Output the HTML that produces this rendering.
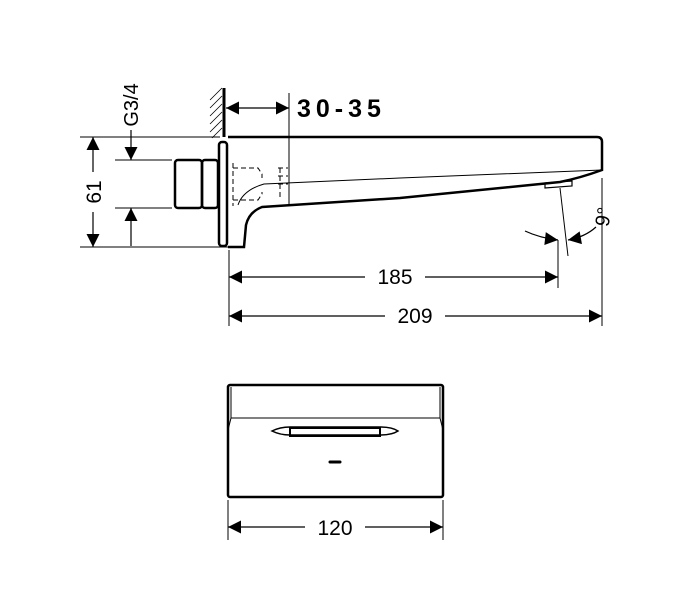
<!DOCTYPE html>
<html><head><style>body{margin:0;background:#fff}svg{display:block}text{font-family:"Liberation Sans",sans-serif}</style></head><body>
<svg width="700" height="600" viewBox="0 0 700 600" xmlns="http://www.w3.org/2000/svg">
<defs>
<marker id="a" viewBox="0 0 10 10" refX="10" refY="5" markerWidth="17" markerHeight="13" markerUnits="userSpaceOnUse" orient="auto-start-reverse"><path d="M0,0L10,5L0,10z" fill="#000"/></marker>
</defs>
<g stroke="#000" fill="none" stroke-width="1.2">
<line x1="224" y1="88" x2="224" y2="137" stroke-width="3"/>
<g stroke-width="0.8"><line x1="210" y1="100" x2="222" y2="88"/><line x1="210" y1="108" x2="222" y2="96"/><line x1="210" y1="116" x2="222" y2="104"/><line x1="210" y1="124" x2="222" y2="112"/><line x1="210" y1="132" x2="222" y2="120"/><line x1="212" y1="138" x2="222" y2="128"/></g>
<path d="M228,137 L597,137 Q602,137 602,142 L602,170 Q580,178 560,182 L400,198 L262,207 Q249,212 246,225 L244,247 L228,247" stroke-width="2.5"/>
<path d="M602,170 L400,178 L264,184 Q243,190 238,205" stroke-width="1"/>
<rect x="219" y="142" width="8" height="104" rx="3" stroke-width="2.5"/>
<rect x="175" y="160" width="27" height="48" rx="3" stroke-width="2.5"/>
<rect x="202" y="160" width="16" height="48" rx="3" stroke-width="2.5"/>
<path d="M545,183 L572,181 L572,186 L545,188z" stroke-width="1.2"/>
<g stroke-dasharray="5,3" stroke-width="1"><path d="M233,168 L258,168 L262,174 L262,178"/><path d="M233,200 L258,200 L262,194 L262,192"/><line x1="233" y1="163" x2="233" y2="206"/><path d="M278,168 L288,168 M278,176 L288,176 M278,184 L288,184 M280,168 L280,198"/></g>
<line x1="289" y1="93" x2="289" y2="205" stroke-width="1"/>
<line x1="226" y1="108" x2="289" y2="108" marker-start="url(#a)" marker-end="url(#a)"/>
<line x1="80" y1="137" x2="220" y2="137" stroke-width="1"/>
<line x1="80" y1="247" x2="228" y2="247" stroke-width="1"/>
<line x1="93" y1="137" x2="93" y2="172" marker-start="url(#a)"/>
<line x1="93" y1="212" x2="93" y2="247" marker-end="url(#a)"/>
<line x1="115" y1="160" x2="172" y2="160" stroke-width="1"/>
<line x1="115" y1="208" x2="172" y2="208" stroke-width="1"/>
<line x1="131" y1="130" x2="131" y2="160" marker-end="url(#a)"/>
<line x1="131" y1="246" x2="131" y2="208" marker-end="url(#a)"/>
<line x1="229" y1="250" x2="229" y2="326" stroke-width="1"/>
<line x1="558" y1="240" x2="558" y2="288" stroke-width="1"/>
<line x1="602" y1="178" x2="602" y2="326" stroke-width="1"/>
<line x1="560" y1="188" x2="568" y2="256" stroke-width="1"/>
<line x1="229" y1="277" x2="365" y2="277" marker-start="url(#a)"/>
<line x1="425" y1="277" x2="558" y2="277" marker-end="url(#a)"/>
<line x1="229" y1="316" x2="385" y2="316" marker-start="url(#a)"/>
<line x1="445" y1="316" x2="602" y2="316" marker-end="url(#a)"/>
<path d="M525,231 Q540,238 558,240" marker-end="url(#a)"/>
<path d="M596,227 Q585,237 568,240" marker-end="url(#a)"/>
<rect x="228" y="385" width="215" height="112" rx="2" stroke-width="2.5"/>
<path d="M231,387 L231,418 L440,418 L440,387 M231,418 L228,430 M440,418 L443,430" stroke-width="1"/>
<path d="M272,431 Q280,427 290,427 L380,427 Q392,427 398,431 Q392,435 380,435 L290,435 Q280,435 272,431z" stroke-width="1.5"/>
<rect x="290" y="428" width="90" height="8" stroke-width="2"/>
<line x1="330" y1="462" x2="340" y2="462" stroke-width="3" stroke-linecap="round"/>
<line x1="228" y1="500" x2="228" y2="540" stroke-width="1"/>
<line x1="443" y1="500" x2="443" y2="540" stroke-width="1"/>
<line x1="228" y1="527" x2="305" y2="527" marker-start="url(#a)"/>
<line x1="365" y1="527" x2="443" y2="527" marker-end="url(#a)"/>
</g>
<text x="297" y="117" font-size="25" font-weight="bold" letter-spacing="5">30-35</text>
<text x="395" y="284" font-size="21" text-anchor="middle">185</text>
<text x="415" y="323" font-size="21" text-anchor="middle">209</text>
<text x="335" y="535" font-size="21" text-anchor="middle">120</text>
<text transform="translate(101,192) rotate(-90)" font-size="21" text-anchor="middle">61</text>
<text transform="translate(138,105) rotate(-90)" font-size="20" text-anchor="middle">G3/4</text>
<text transform="translate(610,218) rotate(-80)" font-size="20" text-anchor="middle">9°</text>
</svg>
</body></html>
